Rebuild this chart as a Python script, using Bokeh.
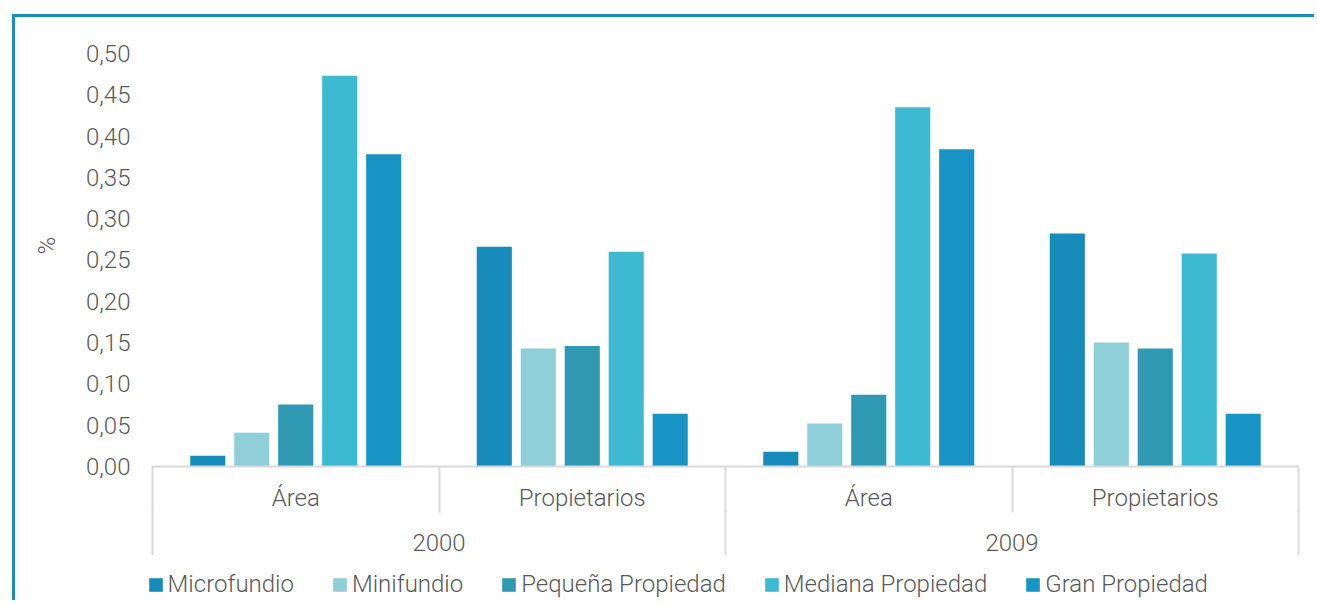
from bokeh.plotting import figure
from bokeh.layouts import column
from bokeh.models import (FactorRange, Range1d, LinearAxis, FixedTicker, CustomJSTickFormatter,
                          Legend, LegendItem, ColumnDataSource)
from bokeh.transform import dodge
from bokeh.embed import file_html
from bokeh.resources import INLINE

# ---------------- data ----------------
years = ["2000", "2009"]
groups = ["Área", "Propietarios"]
series = ["Microfundio", "Minifundio", "Pequeña Propiedad", "Mediana Propiedad", "Gran Propiedad"]

# values per (year, group): 2000-Área, 2000-Propietarios, 2009-Área, 2009-Propietarios
microfundio = [0.013, 0.266, 0.018, 0.282]
minifundio = [0.041, 0.143, 0.052, 0.150]
pequena_propiedad = [0.075, 0.146, 0.087, 0.143]
mediana_propiedad = [0.473, 0.260, 0.435, 0.258]
gran_propiedad = [0.378, 0.064, 0.384, 0.064]

y_ticks = [0.0, 0.05, 0.10, 0.15, 0.20, 0.25, 0.30, 0.35, 0.40, 0.45, 0.50]

colors = ["#178bb9", "#8ecfd8", "#2f99b1", "#3dbad1", "#1894c4"]
TEXT = "#595959"
FONT = "Roboto Light"
FS = "24px"
LINE = "#d9d9d9"
BORDER = "#1b8dbd"

values = [microfundio, minifundio, pequena_propiedad, mediana_propiedad, gran_propiedad]
cats = [(y, g) for y in years for g in groups]
data = {"cat": cats}
for i, v in enumerate(values):
    data[f"s{i}"] = v
source = ColumnDataSource(data)

xr = FactorRange(factors=cats, factor_padding=0, group_padding=0, range_padding=0)

p = figure(
    x_range=xr,
    y_range=Range1d(0, 0.5351),
    width=1302, height=541,
    output_backend="svg", toolbar_location=None,
    x_axis_type=None,
    min_border_left=137, min_border_right=19, min_border_top=7, min_border_bottom=92,
)
p.margin = (14, 0, 0, 12)
p.styles = {"border-top": f"3px solid {BORDER}", "border-left": f"3px solid {BORDER}"}
p.background_fill_color = "white"
p.border_fill_color = "white"
p.outline_line_color = None
p.grid.visible = False

# bars
step = 0.1535
bar_w = 0.1225
for i in range(len(series)):
    p.vbar(x=dodge("cat", (i - 2) * step, range=xr), top=f"s{i}", width=bar_w,
           source=source, fill_color=colors[i], line_color=None)

# y axis
yax = p.yaxis[0]
yax.ticker = FixedTicker(ticks=y_ticks)
yax.formatter = CustomJSTickFormatter(code="return tick.toFixed(2).replace('.', ',');")
yax.axis_line_color = None
yax.major_tick_line_color = None
yax.minor_tick_line_color = None
yax.major_tick_out = 0
yax.major_tick_in = 0
yax.major_label_standoff = 22
yax.major_label_text_font = FONT
yax.major_label_text_font_size = FS
yax.major_label_text_color = TEXT
yax.axis_label = "%"
yax.axis_label_text_font = FONT
yax.axis_label_text_font_size = FS
yax.axis_label_text_font_style = "normal"
yax.axis_label_text_color = TEXT
yax.axis_label_standoff = 22

# category axes (inner: group, outer: year) on the synthetic coordinates of the factor range
n = len(cats)
ax1 = LinearAxis(
    ticker=FixedTicker(ticks=[i + 0.5 for i in range(n)], minor_ticks=list(range(n + 1))),
    major_label_overrides={i + 0.5: c[1] for i, c in enumerate(cats)},
)
ax1.axis_line_color = LINE
ax1.axis_line_width = 2
ax1.major_tick_line_color = None
ax1.major_tick_out = 0
ax1.major_tick_in = 0
ax1.minor_tick_line_color = LINE
ax1.minor_tick_line_width = 2
ax1.minor_tick_in = 0
ax1.minor_tick_out = 46
ax1.major_label_standoff = -29
ax1.major_label_text_font = FONT
ax1.major_label_text_font_size = FS
ax1.major_label_text_color = TEXT
p.add_layout(ax1, "below")

ng = len(groups)
ax2 = LinearAxis(
    ticker=FixedTicker(ticks=[j * ng + ng / 2 for j in range(len(years))],
                       minor_ticks=[j * ng for j in range(len(years) + 1)]),
    major_label_overrides={j * ng + ng / 2: y for j, y in enumerate(years)},
)
ax2.axis_line_color = None
ax2.major_tick_line_color = None
ax2.major_tick_out = 0
ax2.major_tick_in = 0
ax2.minor_tick_line_color = LINE
ax2.minor_tick_line_width = 2
ax2.minor_tick_in = 4
ax2.minor_tick_out = 47
ax2.major_label_standoff = -28
ax2.major_label_text_font = FONT
ax2.major_label_text_font_size = FS
ax2.major_label_text_color = TEXT
p.add_layout(ax2, "below")

# legend strip (same series renderers, outside its visible y window)
p2 = figure(
    x_range=xr, y_range=Range1d(1, 2),
    width=1302, height=45,
    output_backend="svg", toolbar_location=None,
    x_axis_type=None, y_axis_type=None,
    min_border=0, min_border_left=0, min_border_right=0, min_border_top=0, min_border_bottom=0,
)
p2.margin = (0, 0, 0, 12)
p2.styles = {"border-left": f"3px solid {BORDER}"}
p2.outline_line_color = None
p2.grid.visible = False
for fig in (p, p2):
    try:
        fig.frame_align = False
    except AttributeError:
        pass

leg_renderers = []
for i in range(len(series)):
    r = p2.vbar(x=dodge("cat", (i - 2) * step, range=xr), top=f"s{i}", width=bar_w,
                source=source, fill_color=colors[i], line_color=None)
    leg_renderers.append(r)

legend = Legend(
    items=[LegendItem(label=series[i], renderers=[leg_renderers[i]]) for i in range(len(series))],
    orientation="horizontal",
    location=(131.6, 2),
    border_line_color=None,
    background_fill_alpha=0,
    padding=0, margin=0,
    spacing=37,
    glyph_width=17, glyph_height=17,
    label_standoff=4,
    label_text_font=FONT,
    label_text_font_size=FS,
    label_text_color=TEXT,
)
p2.add_layout(legend, "center")

layout = column(p, p2, spacing=0)
open("out.html", "w").write(file_html(layout, INLINE))
